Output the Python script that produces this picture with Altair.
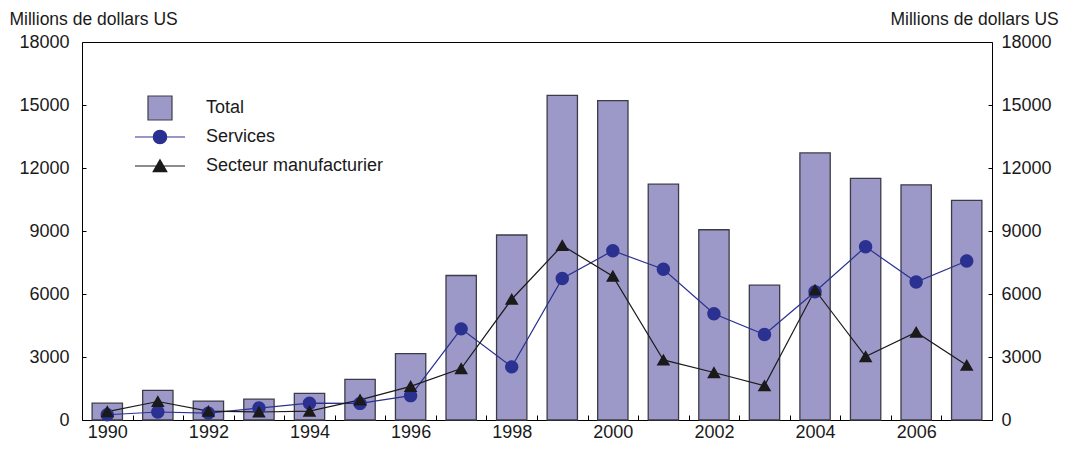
import altair as alt
import pandas as pd

years = list(range(1990, 2008))
total = [800, 1410, 900, 990, 1270, 1930, 3160, 6880, 8810, 15460, 15210,
         11230, 9060, 6420, 12720, 11510, 11200, 10460]
services = [250, 380, 330, 570, 800, 790, 1160, 4340, 2530, 6740, 8060,
            7180, 5060, 4070, 6110, 8250, 6570, 7570]
manuf = [400, 880, 420, 380, 420, 960, 1600, 2450, 5750, 8310, 6850,
         2860, 2260, 1630, 6190, 3020, 4180, 2610]
series_names = ["Total", "Services", "Secteur manufacturier"]
y_ticks = [0, 3000, 6000, 9000, 12000, 15000, 18000]
y_title = "Millions de dollars US"

fill_colors = ["#9c98c8", "#2b3190", "#1a1a1a"]
stroke_colors = ["#3c3c48", "#2b3190", "#1a1a1a"]
FONT = "Liberation Sans"
TXT = "#1a1a1a"

df_total = pd.DataFrame({"year": years, "value": total, "series": "Total"})
df_total["x0"] = df_total["year"] - 0.3
df_total["x1"] = df_total["year"] + 0.3
df_lines = pd.concat([
    pd.DataFrame({"year": years, "value": services, "series": "Services"}),
    pd.DataFrame({"year": years, "value": manuf, "series": "Secteur manufacturier"}),
])

# x axis: ticks at band boundaries, labels every other year
bounds = [y - 0.5 for y in years] + [years[-1] + 0.5]
x_values = sorted(bounds + years)
xscale = alt.Scale(domain=[years[0] - 0.5, years[-1] + 0.5], nice=False, zero=False)
yscale = alt.Scale(domain=[0, 18000], nice=False)

x_axis = alt.Axis(
    values=x_values, title=None, grid=False, domain=False, ticks=True,
    labelExpr="datum.value % 2 == 0 ? '' + datum.value : ''",
    tickSize={"expr": "-5"}, tickWidth=1,
    tickOpacity={"condition": {"test": "datum.value % 1 == 0", "value": 0}, "value": 1},
    labelPadding=8, labelFontSize=18, labelFont=FONT, labelColor=TXT,
    tickColor="#000", labelFlush=False, labelOverlap=False,
)

left_axis = alt.Axis(
    values=y_ticks, format="d", grid=False, domain=False, orient="left", ticks=True,
    tickSize={"expr": "-4"}, tickColor="#000", labelPadding=17,
    labelFontSize=18, labelFont=FONT, labelColor=TXT,
    title=y_title, titleAngle=0, titleAlign="left", titleBaseline="alphabetic",
    titleX=-73, titleY=-18, titleFontSize=17.5, titleFont=FONT,
    titleFontWeight="normal", titleColor=TXT,
)
right_axis = alt.Axis(
    values=y_ticks, format="d", grid=False, domain=False, orient="right", ticks=True,
    tickSize={"expr": "-4"}, tickColor="#000", labelPadding=13,
    labelFontSize=18, labelFont=FONT, labelColor=TXT,
    title=y_title, titleAngle=0, titleAlign="left", titleBaseline="alphabetic",
    titleX=-102, titleY=-18, titleFontSize=17.5, titleFont=FONT,
    titleFontWeight="normal", titleColor=TXT,
)

# symbol shapes (custom paths in units of sqrt(size)/2)
sym_size = 676
u = (sym_size ** 0.5) / 2
s = 12 / u
L = 25 / u
r = 6.7 / u
tw, th1, th2 = 6.8 / u, 6.3 / u, 5.6 / u
shape_paths = [
    f"M-{s:.3f},-{s:.3f}H{s:.3f}V{s:.3f}H-{s:.3f}Z",
    f"M-{L:.3f},0H{L:.3f}M{r:.3f},0A{r:.3f},{r:.3f} 0 1 1 -{r:.3f},0A{r:.3f},{r:.3f} 0 1 1 {r:.3f},0Z",
    f"M-{L:.3f},0H{L:.3f}M0,-{th1:.3f}L{tw:.3f},{th2:.3f}H-{tw:.3f}Z",
]

legend = alt.Legend(
    title=None, orient="none", legendX=64, legendY=52, padding=0,
    labelFontSize=18, labelFont=FONT, labelColor=TXT, labelLimit=0,
    labelOffset=32, rowPadding={"expr": "-1"}, gridAlign="all", symbolSize=sym_size,
    symbolStrokeWidth=1.2, symbolOpacity=1,
)
fill_scale = alt.Scale(domain=series_names, range=fill_colors)
stroke_scale = alt.Scale(domain=series_names, range=stroke_colors)
shape_scale = alt.Scale(domain=series_names, range=shape_paths)

X = lambda f: alt.X(f, scale=xscale, axis=x_axis)

# legend carrier: no rows drawn, only the legend
legend_layer = alt.Chart(df_lines).transform_filter("false").mark_point(
    filled=True, strokeWidth=1.2, opacity=1, size=sym_size
).encode(
    x=X("year:Q"),
    y=alt.Y("value:Q", scale=yscale, axis=left_axis),
    fill=alt.Fill("series:N", scale=fill_scale, legend=legend),
    stroke=alt.Stroke("series:N", scale=stroke_scale, legend=legend),
    shape=alt.Shape("series:N", scale=shape_scale, legend=legend),
)

bars = alt.Chart(df_total).mark_bar(stroke="#3c3c48", strokeWidth=1.3, opacity=1).encode(
    x=X("x0:Q"),
    x2="x1:Q",
    y=alt.Y("value:Q", scale=yscale, axis=left_axis),
    y2=alt.datum(0),
    fill=alt.Fill("series:N", scale=fill_scale, legend=None),
)

lines = alt.Chart(df_lines).mark_line(strokeWidth=1.2).encode(
    x=X("year:Q"),
    y=alt.Y("value:Q", scale=yscale, axis=right_axis),
    stroke=alt.Stroke("series:N", scale=stroke_scale, legend=None),
)
points = alt.Chart(df_lines).mark_point(filled=True, opacity=1, strokeWidth=0, size=sym_size).encode(
    x=X("year:Q"),
    y=alt.Y("value:Q", scale=yscale, axis=right_axis),
    fill=alt.Fill("series:N", scale=fill_scale, legend=None),
    shape=alt.Shape("series:N", scale=shape_scale, legend=None),
)

chart = alt.layer(
    alt.layer(legend_layer, bars),
    alt.layer(lines, points),
).resolve_axis(y="independent").properties(
    width=910, height=378,
    padding={"left": 74, "top": 34, "right": 72, "bottom": 24},
    autosize=alt.AutoSizeParams(type="none"),
).configure(
    font=FONT, background="white",
).configure_view(stroke="#000", strokeWidth=1)

chart.save("out.html", embed_options={"renderer": "svg", "actions": False})
